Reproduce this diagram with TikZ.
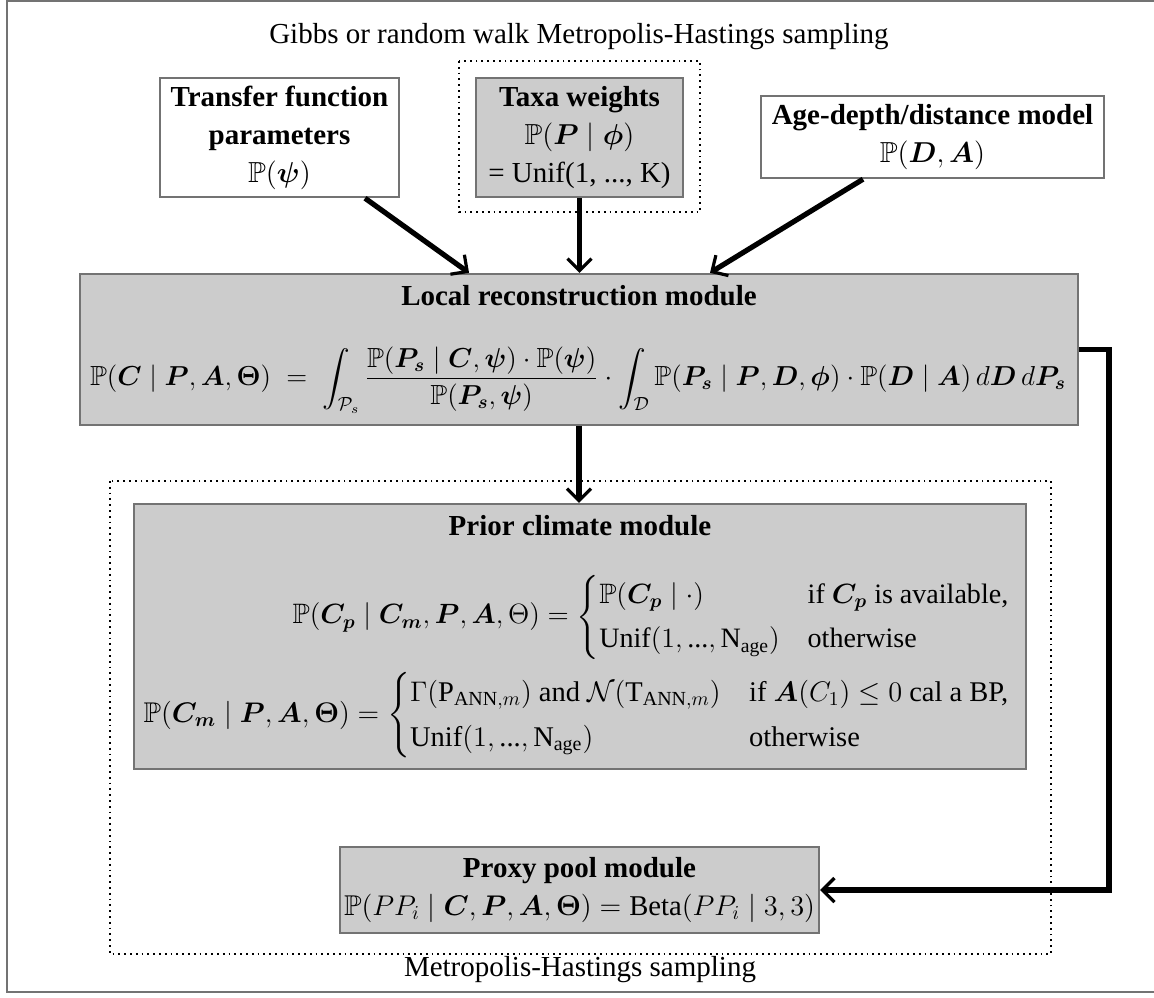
\documentclass[tikz,border=0pt]{standalone}
\usepackage{amsmath,amssymb,graphicx}
\usepackage{fontspec}
\setmainfont{Liberation Serif}
\usetikzlibrary{arrows.meta,calc}
\tikzset{
  modbox/.style={draw=black!55, line width=1.2pt, inner sep=0pt, align=center},
  grayfill/.style={modbox, fill=black!20},
  whitefill/.style={modbox, fill=white},
  dotframe/.style={draw=black, dotted, line width=0.9pt},
  conn/.style={line width=2.6pt, line join=miter, -{Straight Barb[length=6pt,width=12pt,line width=1.6pt]}},
  lbl/.style={inner sep=0pt, align=center},
}
\begin{document}
\begin{tikzpicture}[x=0.5pt,y=-0.5pt,font=\fontsize{14.5}{19}\selectfont]
\useasboundingbox (0,0) rectangle (1154,997);
\draw[draw=black!55, line width=1.2pt] (7,1) rectangle (1170,992);

\node[lbl] (toptitle) at (579,37) {Gibbs or random walk Metropolis-Hastings sampling};
\node[lbl] (bottitle) at (580,970) {Metropolis-Hastings sampling};

% dotted frames
\draw[dotframe] (459,61) rectangle (700,212);
\draw[dotframe] (110,481) rectangle (1051,954);

% top boxes
\node[whitefill, minimum width=119.5pt, minimum height=59.5pt] (tf) at (279.5,137.5)
  {\textbf{Transfer function}\\ \textbf{parameters}\\ $\mathbb{P}(\boldsymbol{\psi})$};
\node[grayfill, minimum width=103.5pt, minimum height=59.5pt] (taxa) at (579.5,137.5)
  {\textbf{Taxa weights}\\ $\mathbb{P}(\boldsymbol{P} \mid \boldsymbol{\phi})$\\ = Unif(1, ..., K)};
\node[whitefill, minimum width=171.5pt, minimum height=41pt] (age) at (932.5,137)
  {\textbf{Age-depth/distance model}\\ $\mathbb{P}(\boldsymbol{D}, \boldsymbol{A})$};

% local reconstruction
\node[grayfill, minimum width=499pt, minimum height=75.5pt] (local) at (579,349.5) {};
\node[lbl] (localtitle) at (579,296) {\textbf{Local reconstruction module}};
\node[lbl] (localeq) at (578,380) {\resizebox{488pt}{!}{$\displaystyle \mathbb{P}(\boldsymbol{C} \mid \boldsymbol{P}, \boldsymbol{A}, \boldsymbol{\Theta}) \;=\; \int_{\mathcal{P}_s} \frac{\mathbb{P}(\boldsymbol{P_s} \mid \boldsymbol{C}, \boldsymbol{\psi}) \cdot \mathbb{P}(\boldsymbol{\psi})}{\mathbb{P}(\boldsymbol{P_s}, \boldsymbol{\psi})} \cdot \int_{\mathcal{D}} \mathbb{P}(\boldsymbol{P_s} \mid \boldsymbol{P}, \boldsymbol{D}, \boldsymbol{\phi}) \cdot \mathbb{P}(\boldsymbol{D} \mid \boldsymbol{A})\, d\boldsymbol{D}\, d\boldsymbol{P_s}$}};

% prior climate
\node[grayfill, minimum width=446pt, minimum height=132.5pt] (prior) at (580,636.5) {};
\node[lbl] (priortitle) at (580,526) {\textbf{Prior climate module}};
\node[lbl, anchor=east] (priorA) at (1011,617) {\resizebox{359pt}{!}{$\mathbb{P}(\boldsymbol{C_p} \mid \boldsymbol{C_m}, \boldsymbol{P}, \boldsymbol{A}, \Theta) = \begin{cases} \mathbb{P}(\boldsymbol{C_p} \mid \cdot) & \text{if } \boldsymbol{C_p} \text{ is available,}\\ \text{Unif}(1, \text{...}, \text{N}_{\text{age}}) & \text{otherwise} \end{cases}$}};
\node[lbl, anchor=east] (priorB) at (1011,715) {\resizebox{433.5pt}{!}{$\mathbb{P}(\boldsymbol{C_m} \mid \boldsymbol{P}, \boldsymbol{A}, \boldsymbol{\Theta}) = \begin{cases} \Gamma(\text{P}_{\text{ANN},m}) \text{ and } \mathcal{N}(\text{T}_{\text{ANN},m}) & \text{if } \boldsymbol{A}(C_1) \le 0 \text{ cal a BP,}\\ \text{Unif}(1, \text{...}, \text{N}_{\text{age}}) & \text{otherwise} \end{cases}$}};

% proxy pool
\node[grayfill, minimum width=239.5pt, minimum height=43pt] (proxy) at (579.5,890)
  {\textbf{Proxy pool module}\\ \resizebox{235.5pt}{!}{$\mathbb{P}(PP_i \mid \boldsymbol{C}, \boldsymbol{P}, \boldsymbol{A}, \boldsymbol{\Theta}) = \text{Beta}(PP_i \mid 3, 3)$}};

% connectors
\draw[conn] ($(tf.south)+(85.5,0)$) -- ($(local.north)+(-110,0)$);
\draw[conn] (taxa.south) -- (taxa.south |- local.north);
\draw[conn] ($(age.south)+(-69.5,0)$) -- ($(local.north)+(131,0)$);
\draw[conn] (local.south) -- (local.south |- prior.north);
\coordinate (rc) at (1109,349.5);
\draw[conn] (local.east) -- (rc) |- (proxy.east);
\end{tikzpicture}
\end{document}
